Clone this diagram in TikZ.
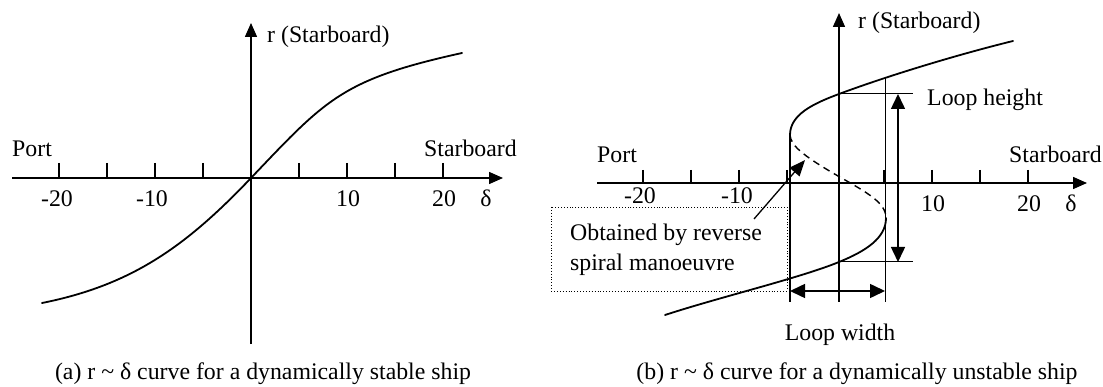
\documentclass[tikz,border=0pt]{standalone}
\usepackage{fontspec}
\setmainfont{Liberation Serif}
\usetikzlibrary{arrows.meta}

\begin{document}
\begin{tikzpicture}[x=1pt,y=-1pt,
  lbl/.style={font=\fontsize{23.8}{28}\selectfont, inner sep=0pt, anchor=base},
  lblw/.style={lbl, anchor=base west},
  axis/.style={line width=1.5pt, -{Triangle[length=14pt,width=12pt]}},
  tickmark/.style={line width=1.4pt},
  curve/.style={line width=1.8pt, line join=round, line cap=round},
  guide/.style={line width=1pt},
  guidethick/.style={line width=1.6pt},
  dimarrow/.style={line width=1.5pt,
    {Triangle[length=15pt,width=14pt]}-{Triangle[length=15pt,width=14pt]}},
  pointer/.style={line width=1.3pt, -{Triangle[length=16pt,width=13pt]}},
]
\useasboundingbox (0,0) rectangle (1103,387);

% ---------------- (a) stable ship ----------------
\coordinate (aO)  at (251,178);
\coordinate (aXl) at (12,178);
\coordinate (aXr) at (503,178);
\coordinate (aYb) at (251,344);
\coordinate (aYt) at (251,23);
\draw[axis] (aXl) -- (aXr);
\draw[axis] (aYb) -- (aYt);
\foreach \x in {59,107,155,203,299,347,395,443}
  \draw[tickmark] (\x,163) -- (\x,178);

\node[lbl] (am20) at (57,207) {-20};
\node[lbl] (am10) at (152,207) {-10};
\node[lbl] (ap10) at (348,207) {10};
\node[lbl] (ap20) at (444,207) {20};
\node[lbl] (adel) at (486,207) {δ};
\node[lblw] (aport) at (12,157) {Port};
\node[lblw] (astar) at (424,157) {Starboard};
\node[lblw] (ar) at (267,43) {r (Starboard)};

% r-delta curve through the origin
\coordinate (aL) at (42,303);
\coordinate (aR) at (462,53);
\draw[curve] (aL) .. controls (132,285) and (186,246.3) .. (aO)
                  .. controls (326,99.25) and (342,79.4) .. (aR);

\node[lbl] (acap) at (263,379) {(a) r \textasciitilde\ δ curve for a dynamically stable ship};

% ---------------- (b) unstable ship ----------------
\coordinate (bXl) at (597,183);
\coordinate (bXr) at (1087,183);
\coordinate (bYb) at (839,302);
\coordinate (bYt) at (839,13);
\draw[axis] (bXl) -- (bXr);
\draw[axis] (bYb) -- (bYt);
\foreach \x in {643,691,739,787,884,932,980,1028}
  \draw[tickmark] (\x,170) -- (\x,183);

\node[lbl] (bm20) at (640,204) {-20};
\node[lbl] (bm10) at (737,204) {-10};
\node[lbl] (bp10) at (933,212) {10};
\node[lbl] (bp20) at (1029,212) {20};
\node[lbl] (bdel) at (1071,212) {δ};
\node[lblw] (bport) at (597,163) {Port};
\node[lblw] (bstar) at (1009,163) {Starboard};
\node[lblw] (br) at (858,29) {r (Starboard)};

% loop geometry
\coordinate (tipL)  at (790,135);
\coordinate (tipR)  at (886,218);
\coordinate (mid)   at (838,176);
\coordinate (upX)   at (839,94);
\coordinate (loX)   at (839,262);
\coordinate (upR)   at (885,77);
\coordinate (upEnd) at (1013,41);
\coordinate (loEnd) at (665,315);
\coordinate (htTop) at (913,94);
\coordinate (htBot) at (913,262);
\coordinate (lineLb) at (790,302);
\coordinate (lineRb) at (885,302);

% upper stable branch
\draw[curve] (tipL) .. controls (790,115) and (812,104) .. (upX)
                    .. controls (890,75) and (960,54) .. (upEnd);
% unstable branch from reverse spiral
\draw[line width=1.4pt, dash pattern=on 7pt off 5pt]
  (tipL) .. controls (791,145) and (800,154) .. (mid)
         .. controls (868,193) and (886,203) .. (tipR);
% lower stable branch
\draw[curve] (tipR) .. controls (886,238) and (866,251) .. (loX)
                    .. controls (800,278) and (720,297) .. (loEnd);

% loop height
\draw[guide] (upX) -- (htTop);
\draw[guide] (loX) -- (htBot);
\coordinate (hA) at (898,94);
\coordinate (hB) at (898,262);
\draw[dimarrow] (hA) -- (hB);
\node[lblw] (lh) at (927,106) {Loop height};

% loop width
\draw[guidethick] (tipL) -- (lineLb);
\draw[guide] (upR) -- (lineRb);
\coordinate (wA) at (790,291);
\coordinate (wB) at (885,291);
\draw[dimarrow] (wA) -- (wB);
\node[lbl] (lw) at (840,341) {Loop width};

% annotation
\coordinate (boxNW) at (551,207);
\coordinate (boxSE) at (787,291);
\draw[line width=0.9pt, dotted] (boxNW) rectangle (boxSE);
\node[lblw] (ob1) at (570,241) {Obtained by reverse};
\node[lblw] (ob2) at (570,271) {spiral manoeuvre};
\coordinate (ptrS) at (754,219);
\coordinate (ptrE) at (805,160);
\draw[pointer] (ptrS) -- (ptrE);

\node[lbl] (bcap) at (857,379) {(b) r \textasciitilde\ δ curve for a dynamically unstable ship};
\end{tikzpicture}
\end{document}
